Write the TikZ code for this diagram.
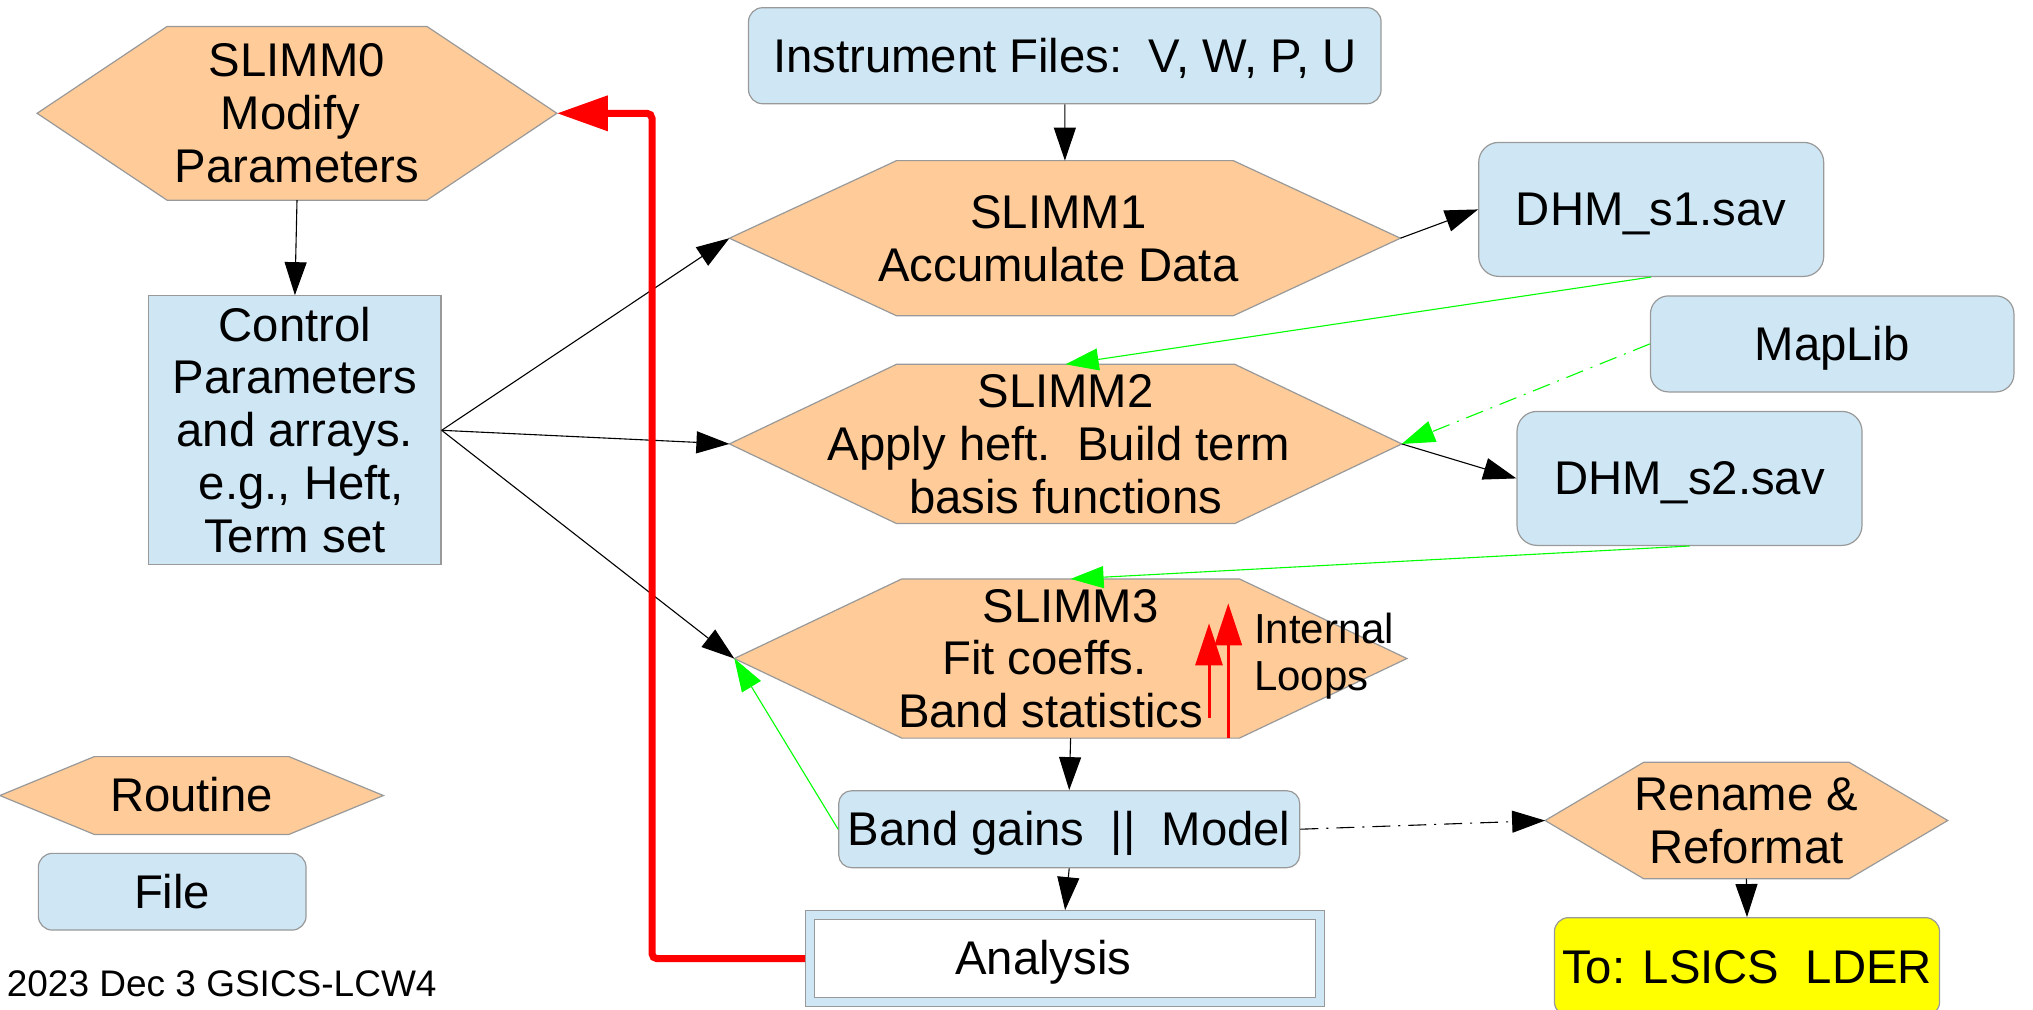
\documentclass[tikz,border=0pt]{standalone}
\usepackage{fontspec}
\setmainfont{Liberation Sans}
\usetikzlibrary{arrows.meta,backgrounds,calc}
\definecolor{hexor}{HTML}{FFCC99}
\definecolor{boxbl}{HTML}{CFE7F5}
\definecolor{bord}{HTML}{999999}
\definecolor{lgreen}{HTML}{00FF00}
\definecolor{ylw}{HTML}{FFFF00}
\definecolor{lored}{HTML}{FF0000}
\newcommand{\lofont}{\fontsize{23.65pt}{26.4pt}\selectfont}
\newcommand{\lstr}{\rule[-5pt]{0pt}{26.4pt}}
\newcommand{\tsp}{\rule{6.6pt}{0pt}}
\newcommand{\smfont}{\fontsize{21pt}{23.45pt}\selectfont}
\newcommand{\sstr}{\rule[-4.45pt]{0pt}{23.45pt}}
\newcommand{\hexagonshape}[2]{%
  \filldraw[hexfill] (#1.west) -- ([xshift=#2]#1.north west) -- ([xshift=-#2]#1.north east)
    -- (#1.east) -- ([xshift=-#2]#1.south east) -- ([xshift=#2]#1.south west) -- cycle;}
\tikzset{
  txt/.style={inner sep=0pt, align=center, font=\lofont},
  hexn/.style={txt, draw=none},
  hexfill/.style={fill=hexor, draw=bord, line width=0.6pt},
  rectbox/.style={txt, fill=boxbl, draw=bord, line width=0.6pt},
  roundbox/.style={rectbox, rounded corners=7pt},
  conn/.style={draw=black, line width=0.55pt, -{Triangle[length=16.5pt,width=11pt]}},
  gconn/.style={conn, draw=lgreen},
  dashdot/.style={dash pattern=on 9pt off 4pt on 1pt off 4pt},
  redline/.style={draw=lored, line width=3.5pt, rounded corners=2.5pt, -{Triangle[length=25.5pt,width=17pt]}},
  loopar/.style={draw=lored, line width=1.5pt, -{Triangle[length=21pt,width=13.5pt]}}
}
\begin{document}
\begin{tikzpicture}[x=0.5pt, y=-0.5pt]
\useasboundingbox (0,0) rectangle (2033,1009);

% routines (hexagons)
\node[hexn, minimum width=259.5pt, minimum height=86.5pt] (s0) at (297,113.3)
  {\lstr SLIMM0\\\lstr Modify\tsp\\\lstr Parameters};
\node[hexn, minimum width=335.1pt, minimum height=77.2pt] (s1) at (1064.9,238.2)
  {\lstr SLIMM1\tsp\\\lstr Accumulate Data\tsp};
\node[hexn, minimum width=335.8pt, minimum height=77.3pt] (s2) at (1065.6,443.9)
  {\lstr SLIMM2\\\lstr Apply heft.\ \ Build term\tsp\\\lstr basis functions};
\node[hexn, minimum width=335.9pt, minimum height=76.9pt] (s3) at (1070.6,658.5)
  {\lstr SLIMM3\\\lstr Fit coeffs.\rule{26.4pt}{0pt}\\\lstr Band statistics\rule{20pt}{0pt}};
\node[hexn, minimum width=200.9pt, minimum height=57.8pt] (rename) at (1746.4,820.5)
  {\lstr Rename \&\\\lstr Reformat};
\node[hexn, minimum width=191.35pt, minimum height=38.5pt] (routine) at (191.6,795.5)
  {\lstr Routine};

\begin{scope}[on background layer]
  \fill[white] (0,0) rectangle (2033,1009);
  \hexagonshape{s0}{65pt}
  \hexagonshape{s1}{83.6pt}
  \hexagonshape{s2}{83.5pt}
  \hexagonshape{s3}{83.75pt}
  \hexagonshape{rename}{49.25pt}
  \hexagonshape{routine}{47.2pt}
\end{scope}

% files and boxes
\node[rectbox, minimum width=146.15pt, minimum height=134.55pt] (ctrl) at (294.9,430.3)
  {\lstr Control\\\lstr Parameters\\\lstr and arrays.\\\lstr\tsp e.g., Heft,\\\lstr Term set};
\node[roundbox, minimum width=316.25pt, minimum height=48pt] (inst) at (1064.8,55.7)
  {\lstr Instrument Files:\ \ V, W, P, U};
\node[roundbox, rounded corners=10pt, minimum width=172.5pt, minimum height=67pt] (dhm1) at (1651.2,209.4)
  {\lstr DHM\_s1.sav};
\node[roundbox, rounded corners=9pt, minimum width=181.75pt, minimum height=48pt] (maplib) at (1832.2,343.9)
  {\lstr MapLib};
\node[roundbox, rounded corners=10pt, minimum width=172.5pt, minimum height=67pt] (dhm2) at (1689.5,478.4)
  {\lstr DHM\_s2.sav};
\node[roundbox, rounded corners=6.5pt, minimum width=230.5pt, minimum height=38.5pt] (bands) at (1069.2,829.2)
  {\lstr Band gains\ \ ||\ \ Model};
\node[rectbox, minimum width=259.5pt, minimum height=48pt] (analysis) at (1065.1,958.7) {};
\node[txt, fill=white, draw=bord, line width=0.6pt, minimum width=250.5pt, minimum height=39.2pt] (analysistext) at (1065.1,958.5)
  {\lstr Analysis\rule{21.7pt}{0pt}};
\node[roundbox, fill=ylw, minimum width=192.55pt, minimum height=49.15pt] (todest) at (1747,966.8)
  {\lstr To: LSICS\ \ LDER};
\node[roundbox, minimum width=133.85pt, minimum height=38.35pt] (filebox) at (172.2,891.7)
  {\lstr File};

% texts
\node[inner sep=0pt, anchor=west, align=left, font=\smfont] (loops) at (1253.6,652)
  {\sstr Internal\\\sstr Loops};
\node[inner sep=0pt, anchor=base west, font=\fontsize{18.5pt}{22pt}\selectfont] (date) at (6.4,996)
  {2023 Dec 3 GSICS-LCW4};

% black connectors
\draw[conn] (s0.south) -- (ctrl.north);
\draw[conn] (inst.south) -- (s1.north);
\draw[conn] (ctrl.east) -- (s1.west);
\draw[conn] (ctrl.east) -- (s2.west);
\draw[conn] (ctrl.east) -- (s3.west);
\draw[conn] (s1.east) -- (dhm1.west);
\draw[conn] (s2.east) -- (dhm2.west);
\draw[conn] (s3.south) -- (bands.north);
\draw[conn] (bands.south) -- (analysis.north);
\draw[conn, dashdot] (bands.east) -- (rename.west);
\draw[conn] (rename.south) -- (todest.north);

% green connectors
\draw[gconn] (dhm1.south) -- (s2.north);
\draw[gconn, dashdot] (maplib.west) -- (s2.east);
\draw[gconn] (dhm2.south) -- (s3.north);
\draw[gconn] (bands.west) -- (s3.west);

% red loop back
\coordinate (redx) at (652,0);
\draw[redline] (analysis.west) -- (analysis.west -| redx) -- (s0.east -| redx) -- (s0.east);

% internal loops arrows
\coordinate (la1) at (1209,718);
\coordinate (lb1) at (1209,623.3);
\coordinate (la2) at (1228.3,738);
\coordinate (lb2) at (1228.3,603.3);
\draw[loopar] (la1) -- (lb1);
\draw[loopar] (la2) -- (lb2);
\end{tikzpicture}
\end{document}
